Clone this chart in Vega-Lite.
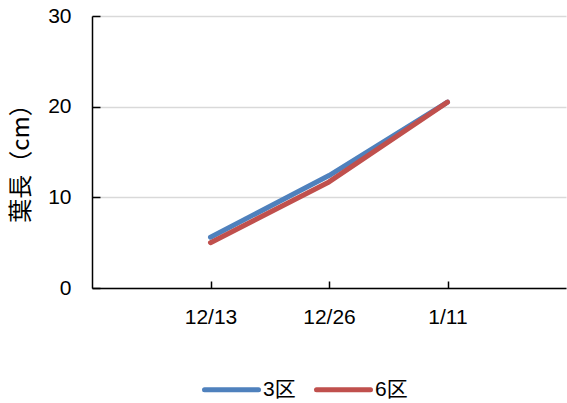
{
  "$schema": "https://vega.github.io/schema/vega-lite/v6.json",
  "width": 474,
  "height": 272,
  "autosize": {"type": "none"},
  "padding": {"left": 92, "top": 16, "right": 1, "bottom": 115},
  "background": "white",
  "config": {
    "view": {"stroke": null},
    "font": "Liberation Sans, Noto Sans CJK JP",
    "axis": {
      "labelFont": "Liberation Sans, Noto Sans CJK JP",
      "labelFontSize": 21,
      "labelColor": "#000000",
      "domainColor": "#000000",
      "domainWidth": 1.5,
      "tickColor": "#000000",
      "tickWidth": 1.5,
      "gridColor": "#d9d9d9",
      "gridWidth": 1.5
    }
  },
  "data": {
    "values": [
      {"date": "12/13", "plot": "3区", "length": 5.6},
      {"date": "12/26", "plot": "3区", "length": 12.4},
      {"date": "1/11", "plot": "3区", "length": 20.5},
      {"date": "12/13", "plot": "6区", "length": 5.0},
      {"date": "12/26", "plot": "6区", "length": 11.7},
      {"date": "1/11", "plot": "6区", "length": 20.5}
    ]
  },
  "mark": {"type": "line", "strokeWidth": 5, "strokeCap": "round", "strokeJoin": "round"},
  "encoding": {
    "x": {
      "field": "date",
      "type": "ordinal",
      "sort": ["12/13", "12/26", "1/11"],
      "scale": {"type": "point", "padding": 1},
      "axis": {
        "title": null,
        "labelAngle": 0,
        "tickSize": -7,
        "labelPadding": 25,
        "grid": false
      }
    },
    "y": {
      "field": "length",
      "type": "quantitative",
      "scale": {"domain": [0, 30], "nice": false},
      "axis": {
        "values": [0, 10, 20, 30],
        "title": "葉長（cm）",
        "titleFont": "Noto Sans CJK JP",
        "titleFontSize": 24,
        "titleFontWeight": "normal",
        "titleColor": "#000000",
        "titlePadding": 14,
        "titleY": 141,
        "tickSize": -8,
        "labelPadding": 29
      }
    },
    "color": {
      "field": "plot",
      "type": "nominal",
      "scale": {"domain": ["3区", "6区"], "range": ["#4F81BD", "#C0504D"]},
      "legend": {
        "title": null,
        "orient": "none",
        "direction": "horizontal",
        "legendX": 110,
        "legendY": 344,
        "symbolType": "stroke",
        "symbolSize": 2916,
        "symbolStrokeWidth": 5,
        "labelOffset": 2,
        "columnPadding": 10,
        "labelFont": "Liberation Sans, Noto Sans CJK JP",
        "labelFontSize": 21,
        "labelColor": "#000000",
        "encode": {"symbols": {"update": {"strokeCap": {"value": "round"}}}}
      }
    }
  }
}
